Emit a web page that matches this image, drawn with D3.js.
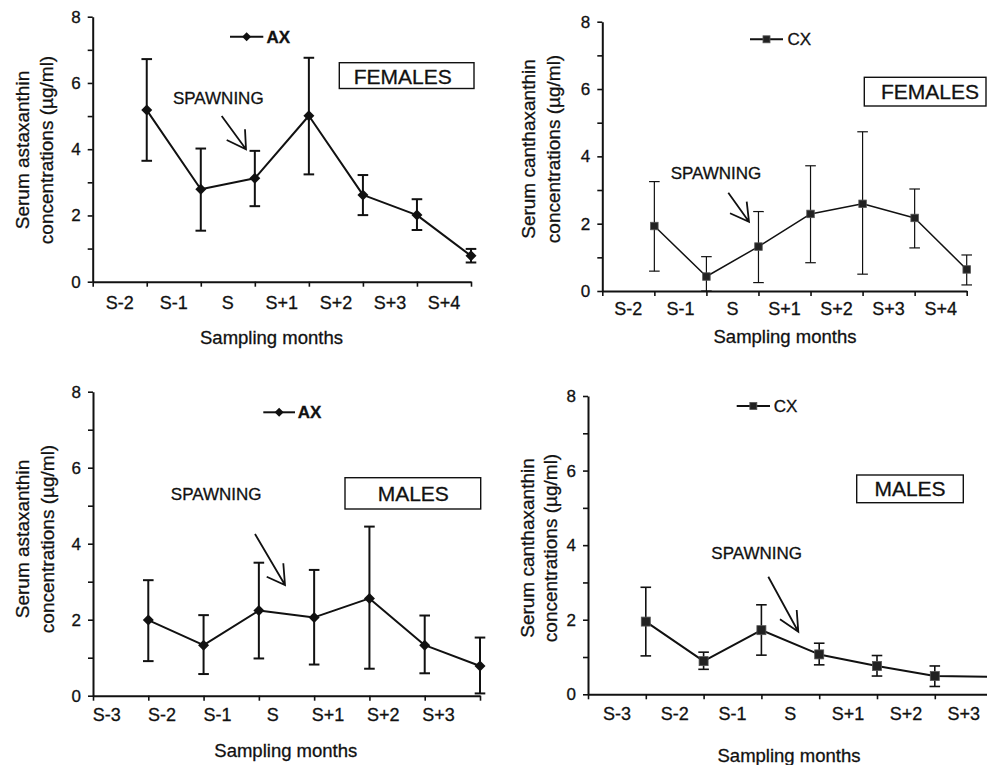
<!DOCTYPE html>
<html>
<head>
<meta charset="utf-8">
<script src="https://cdn.jsdelivr.net/npm/d3@7"></script>
<style>
  html, body { margin: 0; padding: 0; background: #fff; }
  svg { display: block; font-family: "Liberation Sans", Arial, Helvetica, sans-serif; }
  svg text { stroke: #111; stroke-width: 0.3px; }
</style>
</head>
<body>
<svg id="chart" width="987" height="765"></svg>
<script>
// ---------------- data ----------------
const monthsFemales = ["S-2", "S-1", "S", "S+1", "S+2", "S+3", "S+4"];
const monthsMales   = ["S-3", "S-2", "S-1", "S", "S+1", "S+2", "S+3"];
const yTickValues   = [0, 1, 2, 3, 4, 5, 6, 7, 8];

// Females, astaxanthin (AX)
const axFemMean = [5.18, 2.79, 3.12, 5.01, 2.62, 2.01, 0.78];
const axFemHigh = [6.72, 4.02, 3.95, 6.76, 3.22, 2.49, 0.99];
const axFemLow  = [3.65, 1.54, 2.28, 3.24, 2.01, 1.56, 0.58];

// Females, canthaxanthin (CX)
const cxFemMean = [1.93, 0.43, 1.32, 2.29, 2.59, 2.17, 0.64];
const cxFemHigh = [3.25, 1.02, 2.36, 3.72, 4.73, 3.03, 1.07];
const cxFemLow  = [0.59, 0.00, 0.25, 0.84, 0.50, 1.28, 0.18];

// Males, astaxanthin (AX)
const axMalMean = [1.99, 1.33, 2.24, 2.06, 2.56, 1.33, 0.78];
const axMalHigh = [3.04, 2.12, 3.50, 3.31, 4.45, 2.11, 1.53];
const axMalLow  = [0.91, 0.57, 0.98, 0.82, 0.71, 0.59, 0.06];

// Males, canthaxanthin (CX)
const cxMalMean = [1.95, 0.89, 1.72, 1.07, 0.76, 0.49, 0.47];
const cxMalHigh = [2.87, 1.13, 2.40, 1.37, 1.04, 0.76, null];
const cxMalLow  = [1.03, 0.67, 1.05, 0.79, 0.49, 0.21, null];

// ---------------- panels ----------------
const panels = [
  { labels: monthsFemales, mean: axFemMean, hi: axFemHigh, lo: axFemLow,
    series: "AX", marker: "diamond", sex: "FEMALES",
    title1: "Serum astaxanthin", title2: "concentrations (µg/ml)",
    L: { x0: 92.7, x1: 471, y0: 281.7, y8: 16.7, labOff: 0.5, labY: 20.5,
         lw: 2, ew: 2, ms: 5.5,
         t1x: 21.7, t2x: 46.5, ty: 150, xtX: 271.5, xtY: 337,
         legX0: 230, legX1: 263.3, legY: 36.7, legTx: 266.5,
         box: [339.3, 62.7, 134.7, 25.8], boxT: [402.7, 76.2],
         spX: 218.3, spY: 98,
         arr: [[221.7, 116], [246, 149.3]], head: [[226.7, 140], [245, 129.3]] } },
  { labels: monthsFemales, mean: cxFemMean, hi: cxFemHigh, lo: cxFemLow,
    series: "CX", marker: "square", sex: "FEMALES",
    title1: "Serum canthaxanthin", title2: "concentrations (µg/ml)",
    L: { x0: 602.3, x1: 966.7, y0: 291, y8: 21.7, labOff: 0.5, labY: 17.5,
         lw: 1.5, ew: 1.2, ms: 7.5,
         t1x: 528, t2x: 553, ty: 149, xtX: 785, xtY: 336.7,
         legX0: 750, legX1: 783, legY: 39.3, legTx: 787.5,
         box: [864.3, 77.3, 121.7, 28.7], boxT: [930, 91.5],
         spX: 716, spY: 173.3,
         arr: [[728.3, 192.7], [749, 221.7]], head: [[730, 213.3], [746.7, 201.7]] } },
  { labels: monthsMales, mean: axMalMean, hi: axMalHigh, lo: axMalLow,
    series: "AX", marker: "diamond", sex: "MALES",
    title1: "Serum astaxanthin", title2: "concentrations (µg/ml)",
    L: { x0: 93, x1: 480, y0: 695.7, y8: 391.7, labOff: 0.25, labY: 19.3,
         lw: 2, ew: 2, ms: 5.5,
         t1x: 21.7, t2x: 46.7, ty: 539, xtX: 285.8, xtY: 750,
         legX0: 263.3, legX1: 295, legY: 412.3, legTx: 297.8,
         box: [345, 477.7, 135.7, 31.3], boxT: [413.3, 493.3],
         spX: 216.2, spY: 494.3,
         arr: [[255, 534], [285, 585]], head: [[266.7, 576.7], [283.3, 563.3]] } },
  { labels: monthsMales, mean: cxMalMean, hi: cxMalHigh, lo: cxMalLow,
    series: "CX", marker: "square", sex: "MALES",
    title1: "Serum canthaxanthin", title2: "concentrations (µg/ml)",
    L: { x0: 588, x1: 992.6, y0: 694.3, y8: 396, labOff: 0.5, labY: 19,
         lw: 2, ew: 1.6, ms: 9,
         t1x: 526.7, t2x: 550, ty: 548, xtX: 789, xtY: 755,
         legX0: 736.7, legX1: 770, legY: 406, legTx: 773.8,
         box: [856.7, 475, 106.6, 27.7], boxT: [910, 488.8],
         spX: 756.7, spY: 552.7,
         arr: [[768.3, 576.7], [798.3, 631.7]], head: [[780, 619.3], [796.7, 610]] } }
];

const svg = d3.select("#chart");
svg.append("rect").attr("width", 987).attr("height", 765).attr("fill", "#fff");

function drawMarker(g, type, cx, cy, s) {
  if (type === "diamond") {
    const r = s;
    g.append("path")
      .attr("d", `M${cx},${cy - r}L${cx + r},${cy}L${cx},${cy + r}L${cx - r},${cy}Z`)
      .attr("fill", "#111");
  } else {
    g.append("rect")
      .attr("x", cx - s / 2).attr("y", cy - s / 2)
      .attr("width", s).attr("height", s)
      .attr("fill", "#222").attr("stroke", "#555").attr("stroke-width", 0.8);
  }
}

panels.forEach(p => {
  const L = p.L;
  const g = svg.append("g");
  const x = d3.scaleLinear().domain([0, 7]).range([L.x0, L.x1]);
  const y = d3.scaleLinear().domain([0, 8]).range([L.y0, L.y8]);

  // y axis
  const ya = g.append("g").attr("transform", `translate(${L.x0},0)`)
    .call(d3.axisLeft(y).tickValues(yTickValues).tickSize(5).tickSizeOuter(0).tickPadding(7)
      .tickFormat(d => d % 2 === 0 ? d : ""));
  ya.select(".domain").attr("stroke", "#111").attr("stroke-width", 2);
  ya.selectAll(".tick line").attr("stroke", "#111").attr("stroke-width", 1.6);
  ya.selectAll(".tick text").attr("font-size", 17).attr("fill", "#111")
    .attr("font-family", "'Liberation Sans', Arial, sans-serif");

  // x axis (tick marks only)
  const xa = g.append("g").attr("transform", `translate(0,${L.y0})`)
    .call(d3.axisBottom(x).tickValues(d3.range(0, 8)).tickSize(5).tickSizeOuter(0).tickFormat(""));
  xa.select(".domain").attr("stroke", "#111").attr("stroke-width", 2);
  xa.selectAll(".tick line").attr("stroke", "#111").attr("stroke-width", 1.6);

  // x category labels
  g.selectAll(".xlab").data(p.labels).enter().append("text")
    .attr("x", (d, i) => x(i + L.labOff))
    .attr("y", L.y0 + L.labY)
    .attr("dy", "0.36em")
    .attr("text-anchor", "middle")
    .attr("font-size", 18).attr("fill", "#111")
    .text(d => d);

  // axis titles
  g.append("text").attr("x", L.xtX).attr("y", L.xtY).attr("dy", "0.36em")
    .attr("text-anchor", "middle").attr("font-size", 18.5).attr("fill", "#111")
    .text("Sampling months");
  [[L.t1x, p.title1], [L.t2x, p.title2]].forEach(([tx, t]) => {
    g.append("text")
      .attr("transform", `translate(${tx},${L.ty}) rotate(-90)`)
      .attr("dy", "0.36em").attr("text-anchor", "middle")
      .attr("font-size", 19).attr("fill", "#111")
      .text(t);
  });

  // data: error bars
  const pts = p.mean.map((m, i) => ({ i: i + 1, m, hi: p.hi[i], lo: p.lo[i] }));
  const cap = 5.3;
  pts.forEach(d => {
    if (d.hi == null || d.lo == null) return;
    g.append("line").attr("x1", x(d.i)).attr("x2", x(d.i))
      .attr("y1", y(d.hi)).attr("y2", y(d.lo))
      .attr("stroke", "#111").attr("stroke-width", L.ew);
    [d.hi, d.lo].forEach(v => {
      g.append("line").attr("x1", x(d.i) - cap).attr("x2", x(d.i) + cap)
        .attr("y1", y(v)).attr("y2", y(v))
        .attr("stroke", "#111").attr("stroke-width", L.ew);
    });
  });

  // line
  g.append("path").datum(pts)
    .attr("d", d3.line().x(d => x(d.i)).y(d => y(d.m)))
    .attr("fill", "none").attr("stroke", "#111").attr("stroke-width", L.lw)
    .attr("stroke-linejoin", "round");

  // markers
  pts.forEach(d => drawMarker(g, p.marker, x(d.i), y(d.m), L.ms));

  // legend
  g.append("line").attr("x1", L.legX0).attr("x2", L.legX1)
    .attr("y1", L.legY).attr("y2", L.legY)
    .attr("stroke", "#111").attr("stroke-width", 2);
  drawMarker(g, p.marker, (L.legX0 + L.legX1) / 2, L.legY, p.marker === "diamond" ? 4.5 : 7);
  g.append("text").attr("x", L.legTx).attr("y", L.legY).attr("dy", "0.36em")
    .attr("font-size", 17).attr("fill", "#111")
    .attr("font-weight", p.series === "AX" ? "bold" : "normal")
    .text(p.series);

  // sex box
  g.append("rect").attr("x", L.box[0]).attr("y", L.box[1])
    .attr("width", L.box[2]).attr("height", L.box[3])
    .attr("fill", "#fff").attr("stroke", "#111").attr("stroke-width", 1.4);
  g.append("text").attr("x", L.boxT[0]).attr("y", L.boxT[1]).attr("dy", "0.36em")
    .attr("text-anchor", "middle").attr("font-size", 21).attr("fill", "#111")
    .text(p.sex);

  // spawning annotation
  g.append("text").attr("x", L.spX).attr("y", L.spY).attr("dy", "0.36em")
    .attr("text-anchor", "middle").attr("font-size", 17).attr("fill", "#111")
    .text("SPAWNING");
  const tip = L.arr[1];
  g.append("path")
    .attr("d", `M${L.arr[0][0]},${L.arr[0][1]}L${tip[0]},${tip[1]}` +
               `M${L.head[0][0]},${L.head[0][1]}L${tip[0]},${tip[1]}L${L.head[1][0]},${L.head[1][1]}`)
    .attr("fill", "none").attr("stroke", "#111").attr("stroke-width", 1.8)
    .attr("stroke-linejoin", "miter");
});
</script>
</body>
</html>
